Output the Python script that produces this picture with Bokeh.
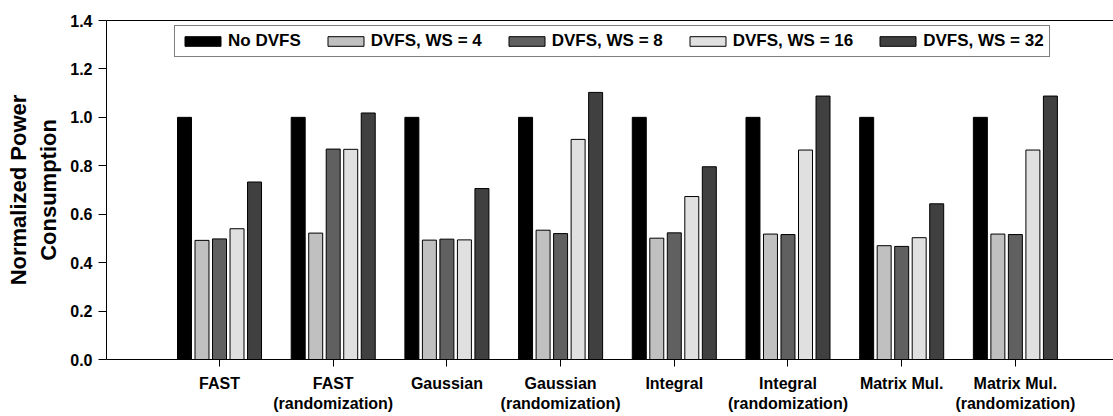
from bokeh.plotting import figure
from bokeh.models import (ColumnDataSource, Range1d, FixedTicker, LinearAxis,
                          NumeralTickFormatter)
from bokeh.embed import file_html
from bokeh.resources import INLINE

# ---- data -------------------------------------------------------------
categories = ["FAST", "FAST\n(randomization)", "Gaussian", "Gaussian\n(randomization)",
              "Integral", "Integral\n(randomization)", "Matrix Mul.",
              "Matrix Mul.\n(randomization)"]
series_names = ["No DVFS", "DVFS, WS = 4", "DVFS, WS = 8", "DVFS, WS = 16", "DVFS, WS = 32"]
no_dvfs = [1.0, 1.0, 1.0, 1.0, 1.0, 1.0, 1.0, 1.0]
ws4 = [0.492, 0.522, 0.493, 0.534, 0.501, 0.518, 0.470, 0.518]
ws8 = [0.498, 0.869, 0.497, 0.520, 0.523, 0.516, 0.467, 0.516]
ws16 = [0.540, 0.868, 0.494, 0.909, 0.673, 0.865, 0.503, 0.865]
ws32 = [0.733, 1.018, 0.706, 1.103, 0.796, 1.088, 0.643, 1.088]
y_ticks = [0.0, 0.2, 0.4, 0.6, 0.8, 1.0, 1.2, 1.4]

series = [no_dvfs, ws4, ws8, ws16, ws32]
colors = ["#000000", "#c0c0c0", "#606060", "#e0e0e0", "#404040"]

FONT = "Liberation Sans"

p = figure(width=1113, height=416, output_backend="svg", toolbar_location=None,
           x_range=Range1d(-0.994, 7.863), y_range=Range1d(0, 1.4),
           min_border_left=106, min_border_right=0, min_border_top=20,
           min_border_bottom=57)
p.outline_line_color = None
p.xgrid.visible = False
p.ygrid.visible = False
p.background_fill_color = "white"
p.border_fill_color = "white"

step = 0.154
bar_w = 0.123
idx = list(range(len(categories)))
for k, (name, vals, col) in enumerate(zip(series_names, series, colors)):
    off = (k - 2) * step
    src = ColumnDataSource(dict(x=[i + off for i in idx], top=vals))
    p.vbar(x="x", top="top", bottom=0, width=bar_w, source=src,
           fill_color=col, line_color="black", line_width=1, legend_label=name)

# bottom x axis
xa = p.below[0]
xa.ticker = FixedTicker(ticks=idx)
xa.major_label_overrides = {i: c for i, c in zip(idx, categories)}
xa.major_label_text_font = FONT
xa.major_label_text_font_style = "bold"
xa.major_label_text_font_size = "16px"
xa.major_label_text_color = "black"
xa.major_tick_out = 7
xa.major_tick_in = 0
xa.minor_tick_line_color = None
xa.axis_line_color = "black"
xa.major_tick_line_color = "black"
xa.major_label_standoff = 8

# y axis
ya = p.left[0]
ya.ticker = FixedTicker(ticks=y_ticks)
ya.formatter = NumeralTickFormatter(format="0.0")
ya.major_label_text_font = FONT
ya.major_label_text_font_style = "bold"
ya.major_label_text_font_size = "16px"
ya.major_label_text_color = "black"
ya.major_tick_out = 8
ya.major_tick_in = 0
ya.minor_tick_line_color = None
ya.axis_line_color = "black"
ya.major_tick_line_color = "black"
ya.major_label_standoff = 6
ya.axis_label = "Normalized Power\nConsumption"
ya.axis_label_text_font = FONT
ya.axis_label_text_font_style = "bold"
ya.axis_label_text_font_size = "22px"
ya.axis_label_text_color = "black"
ya.axis_label_standoff = 6

# top border line
top_axis = LinearAxis(ticker=FixedTicker(ticks=[]), axis_line_color="black",
                      major_tick_line_color=None, minor_tick_line_color=None,
                      major_label_text_font_size="0px", major_label_standoff=0)
p.add_layout(top_axis, "above")

# legend
lg = p.legend[0]
lg.orientation = "horizontal"
lg.location = (68, 302)
lg.label_text_font = FONT
lg.label_text_font_style = "bold"
lg.label_text_font_size = "17px"
lg.label_text_color = "black"
lg.glyph_width = 45
lg.glyph_height = 12
lg.label_standoff = 3
lg.spacing = 22
lg.padding = 5
lg.margin = 0
lg.border_line_color = "black"
lg.border_line_width = 1.5
lg.background_fill_alpha = 1.0

open("out.html", "w").write(file_html(p, INLINE))
